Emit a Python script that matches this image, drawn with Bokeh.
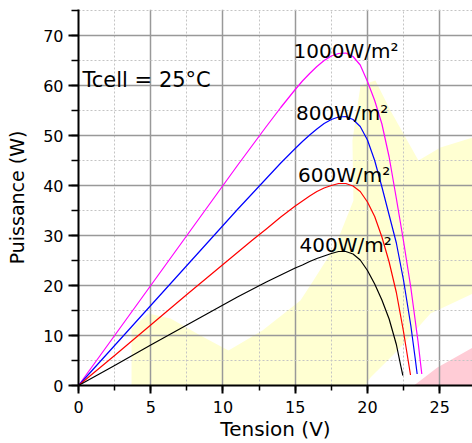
from bokeh.plotting import figure
from bokeh.models import (ColumnDataSource, Label, PolyAnnotation, Range1d,
                          SingleIntervalTicker)
from bokeh.embed import file_html
from bokeh.resources import INLINE

# P-V characteristics of a PV module at Tcell = 25 °C, four irradiance levels
v_1000 = [0, 2.5, 5, 7.5, 10, 11, 12, 13, 14, 15, 15.5, 16, 16.5, 17, 17.5,
          18, 18.5, 19, 19.5, 20, 20.5, 21, 21.5, 22, 22.5, 23, 23.5, 23.76]
p_1000 = [0, 10, 20, 30, 40, 44, 47.9, 51.8, 55.6, 59.2, 60.9, 62.4, 63.8,
          65.0, 65.9, 66.4, 66.5, 65.8, 64.1, 60.8, 57.0, 52.3, 45.7, 37.4,
          28.8, 19.6, 8.8, 2.3]

v_800 = [0, 2.5, 5, 7.5, 10, 11, 12, 13, 14, 15, 15.5, 16, 16.5, 17, 17.5,
         18, 18.5, 19, 19.5, 20, 20.5, 21, 21.5, 22, 22.5, 23, 23.3, 23.44]
p_800 = [0, 8.0, 16.0, 24.0, 32.0, 35.2, 38.3, 41.4, 44.5, 47.4, 48.8, 50.1,
         51.3, 52.4, 53.2, 53.7, 53.8, 53.2, 51.8, 49.1, 45.0, 39.7, 34.1,
         28.5, 21.0, 12.0, 5.5, 2.3]

v_600 = [0, 2.5, 5, 7.5, 10, 11, 12, 13, 14, 15, 15.5, 16, 16.5, 17, 17.5,
         18, 18.5, 19, 19.5, 20, 20.5, 21, 21.5, 22, 22.5, 22.8, 22.98]
p_600 = [0, 6.0, 12.1, 18.2, 24.2, 26.6, 29.0, 31.3, 33.7, 35.9, 36.9, 37.9,
         38.8, 39.5, 40.0, 40.4, 40.4, 39.9, 38.8, 36.7, 33.8, 29.7, 24.7,
         18.6, 10.7, 5.3, 2.1]

v_400 = [0, 2.5, 5, 7.5, 10, 11, 12, 13, 14, 15, 15.5, 16, 16.5, 17, 17.5,
         18, 18.5, 19, 19.5, 20, 20.5, 21, 21.5, 22, 22.3, 22.45]
p_400 = [0, 4.0, 8.1, 12.1, 16.1, 17.7, 19.2, 20.7, 22.1, 23.5, 24.1, 24.8,
         25.4, 25.9, 26.4, 26.8, 26.8, 26.3, 25.1, 23.0, 20.3, 17.1, 13.3,
         8.2, 4.0, 2.0]

series_labels = ["1000W/m²", "800W/m²", "600W/m²", "400W/m²"]
series_colors = ["#ff00ff", "#0000ff", "#ff0000", "#000000"]
series_v = [v_1000, v_800, v_600, v_400]
series_p = [p_1000, p_800, p_600, p_400]
# where each irradiance caption sits (volts, watts at the text baseline)
caption_xy = [(14.88, 66.9), (15.06, 54.5), (15.2, 42.1), (15.3, 28.2)]

FONT = "DejaVu Sans"

p = figure(width=472, height=443, output_backend="svg", toolbar_location=None,
           x_range=Range1d(0, 27.27), y_range=Range1d(0, 75.2),
           min_border_left=78, min_border_right=0, min_border_top=9,
           min_border_bottom=58)
p.outline_line_color = None
p.background_fill_color = "white"
p.border_fill_color = "white"

# pale backdrop wash behind the grid
wash_yellow_x = [3.67, 3.67, 4.84, 6.37, 8.44, 10.38, 12.73, 15.36, 16.26,
                 17.79, 19.03, 18.96, 19.52, 20.55, 21.59, 23.53, 25.05, 27.3,
                 27.3, 24.36, 22.08, 20.21, 19.72, 19.65, 7.27, 7.61, 3.67]
wash_yellow_y = [0, 11.4, 14.4, 13.4, 10, 7, 11, 17, 21, 28, 37, 49, 60, 61,
                 55, 45, 47.6, 49.6, 18.4, 14.4, 7, 1.6, -0.6, -11.6, -11.6,
                 -1, -0.6]
wash_pink_x = [19.52, 19.72, 22.49, 24.84, 27.3, 27.3]
wash_pink_y = [-11.6, -5.6, -1.6, 3.6, 7.6, -11.6]
p.add_layout(PolyAnnotation(xs=wash_yellow_x, ys=wash_yellow_y,
                            fill_color="#ffffd2", fill_alpha=1.0,
                            line_color=None, level="image"))
p.add_layout(PolyAnnotation(xs=wash_pink_x, ys=wash_pink_y,
                            fill_color="#ffccd6", fill_alpha=1.0,
                            line_color=None, level="image"))

for v, pw, col in zip(series_v, series_p, series_colors):
    src = ColumnDataSource(data=dict(v=v, p=pw))
    p.line("v", "p", source=src, line_color=col, line_width=1.2,
           line_join="round")

for text, (x, y) in zip(series_labels, caption_xy):
    p.add_layout(Label(x=x, y=y, text=text, text_font=FONT,
                       text_font_size="20px", text_color="black",
                       text_align="left", text_baseline="alphabetic"))
p.add_layout(Label(x=0.28, y=61.1, text="Tcell = 25°C", text_font=FONT,
                   text_font_size="21px", text_color="black",
                   text_align="left", text_baseline="alphabetic"))

# axes
p.xaxis.ticker = SingleIntervalTicker(interval=5, num_minor_ticks=2)
p.yaxis.ticker = SingleIntervalTicker(interval=10, num_minor_ticks=2)
p.xaxis.axis_label = "Tension (V)"
p.yaxis.axis_label = "Puissance (W)"
for ax in (p.xaxis, p.yaxis):
    ax.axis_line_width = 2
    ax.axis_line_color = "black"
    ax.major_tick_line_width = 2
    ax.minor_tick_line_width = 1.5
    ax.major_tick_in = 0
    ax.minor_tick_in = 0
    ax.major_label_text_font = FONT
    ax.major_label_text_font_size = "16px"
    ax.major_label_text_color = "black"
    ax.axis_label_text_font = FONT
    ax.axis_label_text_font_style = "normal"
    ax.axis_label_text_color = "black"
p.xaxis.major_tick_out = 8
p.xaxis.minor_tick_out = 5
p.xaxis.major_label_standoff = 7
p.xaxis.axis_label_standoff = 1
p.xaxis.axis_label_text_font_size = "20px"
p.yaxis.major_tick_out = 10
p.yaxis.minor_tick_out = 7
p.yaxis.major_label_standoff = 5
p.yaxis.axis_label_standoff = 12
p.yaxis.axis_label_text_font_size = "19px"

# grid: solid major lines, dotted minor lines
for g in (p.xgrid, p.ygrid):
    g.grid_line_color = "#999999"
    g.grid_line_width = 1.5
    g.minor_grid_line_color = "#c4c4c4"
    g.minor_grid_line_width = 1
    g.minor_grid_line_dash = "2 2"

open("out.html", "w").write(file_html(p, INLINE))
